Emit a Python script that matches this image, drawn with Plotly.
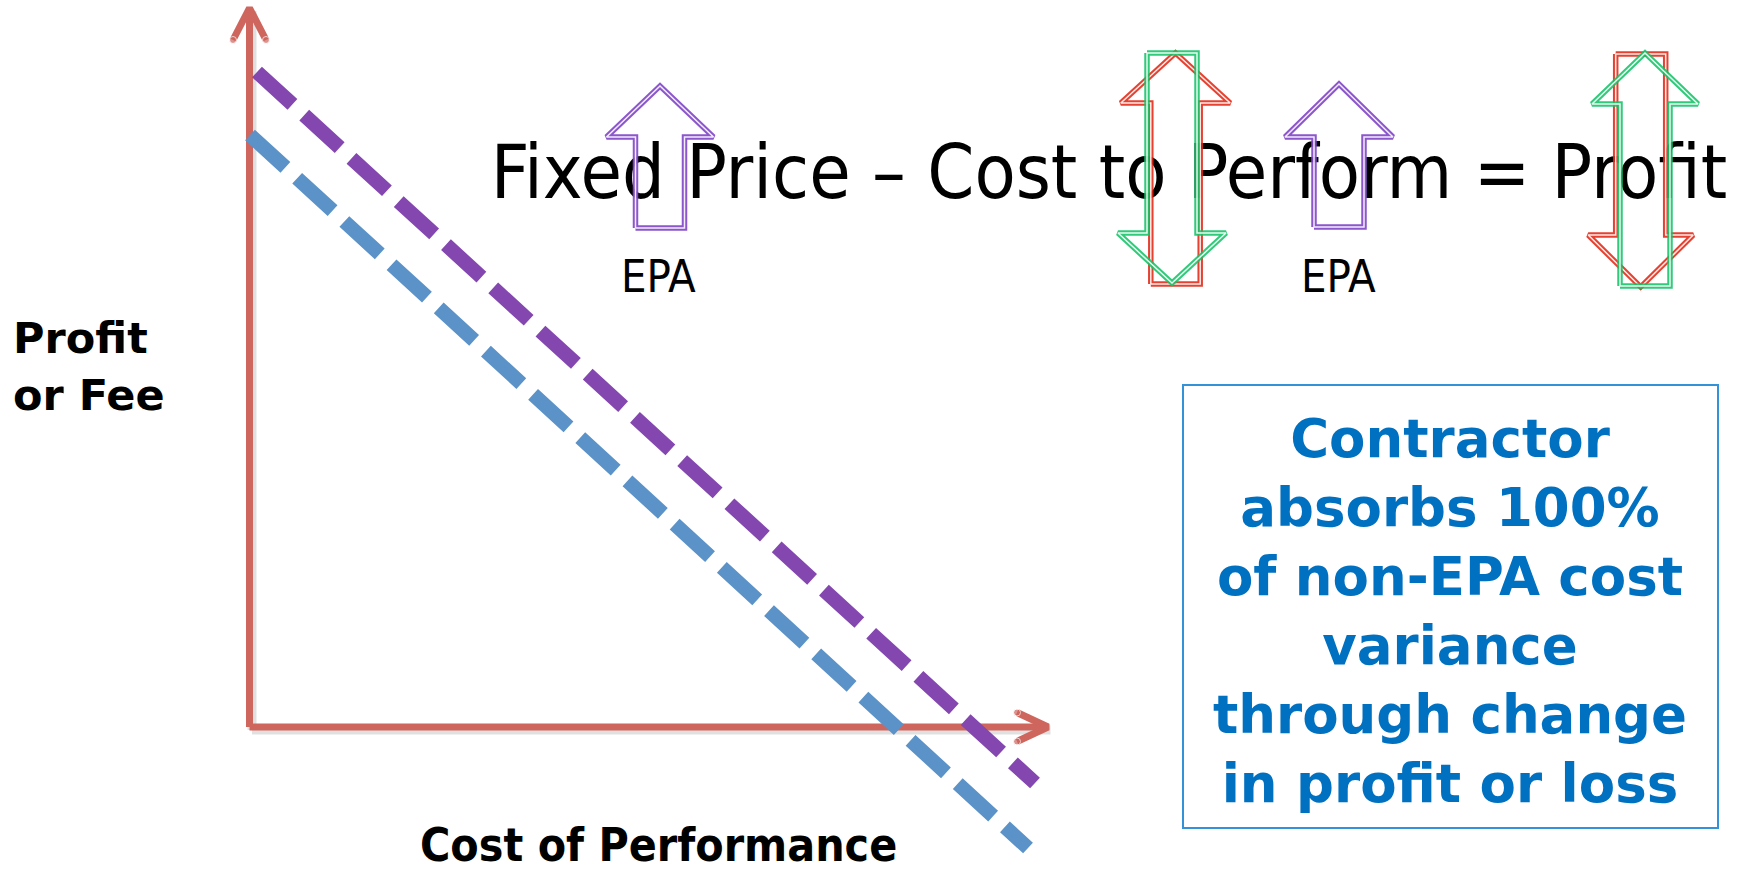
import plotly.graph_objects as go

# ---------------- data (diagram units: Cost of Performance vs Profit or Fee) ----------------
axis_cost = [0, 79.85]            # extent of the cost-of-performance axis
axis_profit = [0, 71.9]           # extent of the profit-or-fee axis
price_epa_cost = [0.75, 78.55]    # purple line: price incl. EPA adjustment
price_epa_profit = [65.5, -5.6]
price_base_cost = [0.05, 77.85]   # blue line: base fixed price
price_base_profit = [59.2, -12.1]

title_text = "Fixed Price \u2013 Cost to Perform = Profit"
epa_labels = ["EPA", "EPA"]
y_label = ["Profit", "or Fee"]
x_label = "Cost of Performance"
box_lines = ["Contractor", "absorbs 100%", "of non-EPA cost", "variance",
             "through change", "in profit or loss"]

# ---------------- geometry helpers (pixel -> diagram units) ----------------
W, H = 1739, 870
OX, OY, S = 249.5, 727.0, 10.0


def px(x):
    return (x - OX) / S


def py(y):
    return (OY - y) / S


AXIS_RED = "rgb(207,102,94)"
PURPLE = "rgb(132,71,176)"
BLUE = "rgb(91,146,200)"

fig = go.Figure()

# axis shadows
sh_dx, sh_dy = 0.25, -0.3
fig.add_trace(go.Scatter(x=[axis_cost[0] + sh_dx, axis_cost[0] + sh_dx],
                         y=[axis_profit[0] + sh_dy, axis_profit[1] + sh_dy],
                         mode="lines", line=dict(color="rgba(0,0,0,0.12)", width=9),
                         hoverinfo="skip"))
fig.add_trace(go.Scatter(x=[axis_cost[0] + sh_dx, axis_cost[1] + sh_dx],
                         y=[axis_profit[0] + sh_dy, axis_profit[0] + sh_dy],
                         mode="lines", line=dict(color="rgba(0,0,0,0.12)", width=9),
                         hoverinfo="skip"))

# axes
fig.add_trace(go.Scatter(x=[axis_cost[0], axis_cost[0]], y=[axis_profit[0], axis_profit[1]],
                         mode="lines", line=dict(color=AXIS_RED, width=7), hoverinfo="skip"))
fig.add_trace(go.Scatter(x=[axis_cost[0], axis_cost[1]], y=[axis_profit[0], axis_profit[0]],
                         mode="lines", line=dict(color=AXIS_RED, width=7), hoverinfo="skip"))
# arrow heads (chevrons)
fig.add_trace(go.Scatter(
    x=[axis_cost[0] - 1.65, axis_cost[0], axis_cost[0] + 1.65],
    y=[axis_profit[1] - 3.2, axis_profit[1], axis_profit[1] - 3.2],
    mode="lines+markers", line=dict(color=AXIS_RED, width=7),
    marker=dict(size=[7, 0, 7], color=AXIS_RED), hoverinfo="skip"))
fig.add_trace(go.Scatter(
    x=[axis_cost[1] - 3.1, axis_cost[1], axis_cost[1] - 3.1],
    y=[axis_profit[0] + 1.45, axis_profit[0], axis_profit[0] - 1.45],
    mode="lines+markers", line=dict(color=AXIS_RED, width=7),
    marker=dict(size=[7, 0, 7], color=AXIS_RED), hoverinfo="skip"))

# dashed price lines
fig.add_trace(go.Scatter(x=price_epa_cost, y=price_epa_profit, mode="lines",
                         line=dict(color=PURPLE, width=14.5, dash="48px,16px"), hoverinfo="skip"))
fig.add_trace(go.Scatter(x=price_base_cost, y=price_base_profit, mode="lines",
                         line=dict(color=BLUE, width=14.5, dash="48px,16px"), hoverinfo="skip"))

# title (as a text trace so the outline arrows can sit on top)
fig.add_trace(go.Scatter(x=[px(1109)], y=[py(179)], mode="text", text=[title_text],
                         textposition="middle center",
                         textfont=dict(family="DejaVu Sans Condensed, DejaVu Sans", size=75,
                                       color="black"),
                         hoverinfo="skip"))


# block outline arrows
def block_arrow(cx, tip, base, end, sw, hw):
    xs = [cx - sw, cx - sw, cx - hw, cx, cx + hw, cx + sw, cx + sw, cx - sw]
    ys = [end, base, base, tip, base, base, end, end]
    return [px(v) for v in xs], [py(v) for v in ys]


P_ARROW = "rgba(130,72,200,0.92)"
R_ARROW = "rgba(225,40,20,0.88)"
G_ARROW = "rgba(20,195,105,0.88)"
arrows = [
    (660, 86, 137, 228, 24.5, 53.5, P_ARROW),
    (1339, 84, 137, 227, 25, 54, P_ARROW),
    (1175.5, 53, 103, 284, 24.7, 54.7, R_ARROW),
    (1172, 283, 233, 53, 25, 54, G_ARROW),
    (1640.7, 287, 235, 54, 25, 52.5, R_ARROW),
    (1645, 53, 104, 286, 25, 53, G_ARROW),
]
for cx, tip, base, end, sw, hw, col in arrows:
    xs, ys = block_arrow(cx, tip, base, end, sw, hw)
    fig.add_trace(go.Scatter(x=xs, y=ys, mode="lines", line=dict(color=col, width=5.5),
                             hoverinfo="skip"))
    fig.add_trace(go.Scatter(x=xs, y=ys, mode="lines",
                             line=dict(color="rgba(255,255,255,0.9)", width=1.5),
                             hoverinfo="skip"))

# text box
fig.add_shape(type="rect", xref="x", yref="y", x0=px(1183), x1=px(1718), y0=py(385), y1=py(828),
              line=dict(color="rgb(52,146,216)", width=2), fillcolor="rgba(0,0,0,0)")

ann = []
for lab, cx in zip(epa_labels, [658, 1338]):
    ann.append(dict(x=px(cx), y=py(276), text=lab, showarrow=False, xanchor="center",
                    yanchor="middle",
                    font=dict(family="DejaVu Sans Condensed, DejaVu Sans", size=45, color="black")))
for lab, cy in zip(y_label, [338, 395]):
    ann.append(dict(x=px(11), y=py(cy), text="<b>" + lab + "</b>", showarrow=False,
                    xanchor="left", yanchor="middle",
                    font=dict(family="DejaVu Sans", size=43, color="black")))
ann.append(dict(x=px(658), y=py(845), text="<b>" + x_label + "</b>", showarrow=False,
                xanchor="center", yanchor="middle",
                font=dict(family="DejaVu Sans Condensed, DejaVu Sans", size=46, color="black")))
ann.append(dict(x=px(1450), y=py(611), text="<b>" + "<br>".join(box_lines) + "</b>",
                showarrow=False, xanchor="center", yanchor="middle", align="center",
                font=dict(family="DejaVu Sans", size=53, color="rgb(0,112,192)")))

fig.update_layout(
    width=W, height=H, margin=dict(l=0, r=0, t=0, b=0),
    paper_bgcolor="white", plot_bgcolor="white", showlegend=False,
    xaxis=dict(range=[px(0), px(W)], visible=False, fixedrange=True),
    yaxis=dict(range=[py(H), py(0)], visible=False, fixedrange=True),
    annotations=ann,
)

fig.write_html("out.html")
